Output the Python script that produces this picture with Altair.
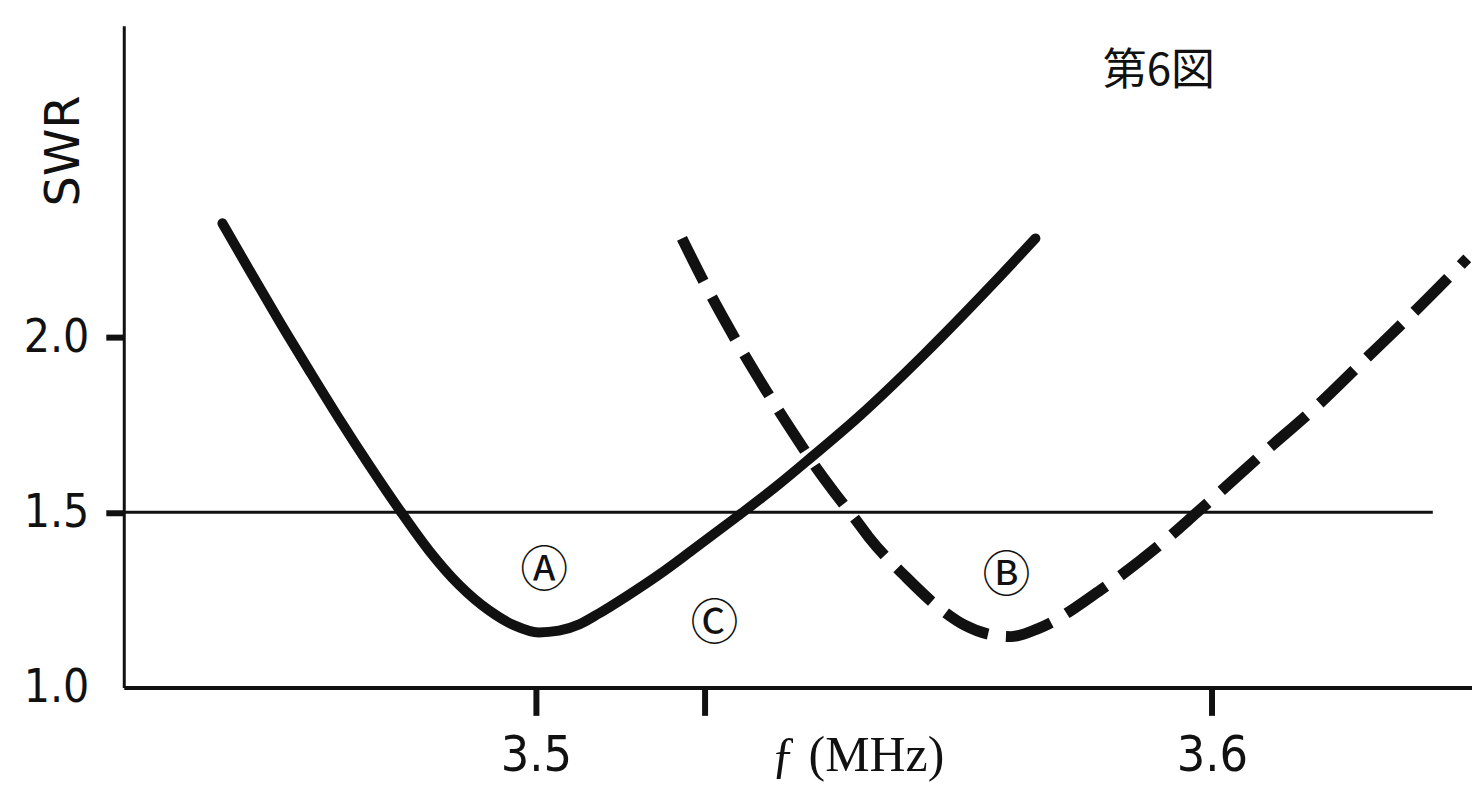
import altair as alt
import pandas as pd

# ---- data ----
# Curve A (solid)
freq_a = [3.4536, 3.4576, 3.4620, 3.4665, 3.4709, 3.4753, 3.4798, 3.4842, 3.4886,
          3.4931, 3.4968, 3.5004, 3.5034, 3.5064, 3.5093, 3.5133, 3.5182, 3.5230,
          3.5295, 3.5355, 3.5408, 3.5477, 3.5576, 3.5674, 3.5739]
swr_a = [2.325, 2.191, 2.046, 1.903, 1.766, 1.635, 1.507, 1.390, 1.293,
         1.219, 1.177, 1.157, 1.162, 1.180, 1.211, 1.259, 1.322, 1.390,
         1.484, 1.573, 1.658, 1.772, 1.954, 2.148, 2.282]

# Curve B (dashed)
freq_b = [3.5216, 3.5251, 3.5295, 3.5340, 3.5393, 3.5418, 3.5443, 3.5473, 3.5492,
          3.5547, 3.5600, 3.5635, 3.5680, 3.5703, 3.5743, 3.5836, 3.5920, 3.5979,
          3.6078, 3.6157, 3.6226, 3.6290, 3.6378]
swr_b = [2.282, 2.148, 1.994, 1.849, 1.690, 1.618, 1.553, 1.479, 1.430,
         1.316, 1.222, 1.177, 1.148, 1.145, 1.168, 1.279, 1.402, 1.501,
         1.672, 1.806, 1.935, 2.054, 2.225]

# SWR = 1.5 reference line
ref_swr = [1.5]
ref_from = [3.439]
ref_to = [3.6327]

# circled labels
label_text = ["Ⓐ", "Ⓑ", "Ⓒ"]
label_freq = [3.5012, 3.5696, 3.5264]
label_swr = [1.330, 1.316, 1.177]

x_ticks = [3.5, 3.525, 3.6]
y_ticks = [1.0, 1.5, 2.0]
x_domain = [3.439, 3.6385]
y_domain = [1.0, 2.889]

# ---- tables ----
df_a = pd.DataFrame({"f": freq_a, "swr": swr_a})
df_b = pd.DataFrame({"f": freq_b, "swr": swr_b})
df_ref = pd.DataFrame({"f": ref_from, "f2": ref_to, "swr": ref_swr})
df_lab = pd.DataFrame({"f": label_freq, "swr": label_swr, "t": label_text})

x_scale = alt.Scale(domain=x_domain, nice=False, zero=False)
y_scale = alt.Scale(domain=y_domain, nice=False, zero=False)

INK = "#111111"
NUM_FONT = "DejaVu Sans Condensed, Liberation Sans Narrow, DejaVu Sans"

x_axis = alt.Axis(
    values=x_ticks,
    labelExpr="abs(datum.value - 3.525) < 0.001 ? '' : format(datum.value, '.1f')",
    grid=False,
    domainColor=INK, domainWidth=4,
    tickColor=INK, tickWidth=6, tickSize=28,
    labelFont=NUM_FONT, labelFontSize=50, labelColor=INK,
    labelBaseline="alphabetic", labelPadding=55, labelAlign="center",
    title="ƒ (MHz)", titleFont="Liberation Serif", titleFontSize=50,
    titleFontWeight="normal", titleColor=INK,
    titleX=735, titleY=83, titleAlign="center", titleBaseline="alphabetic",
)
y_axis = alt.Axis(
    values=y_ticks, format=".1f",
    grid=False,
    domainColor=INK, domainWidth=3,
    tickColor=INK, tickWidth=6, tickSize=18,
    tickOpacity={"condition": {"test": "datum.value == 1", "value": 0}, "value": 1},
    labelFont=NUM_FONT, labelFontSize=46, labelColor=INK,
    labelPadding=17, labelAlign="right", labelBaseline="middle",
    title="SWR", titleFont="DejaVu Sans", titleFontSize=48,
    titleFontWeight="normal", titleColor=INK,
    titleAngle=270, titleX=-59, titleY=125,
    titleAlign="center", titleBaseline="middle",
)

X = alt.X("f:Q", scale=x_scale, axis=x_axis)
Y = alt.Y("swr:Q", scale=y_scale, axis=y_axis)

line_a = alt.Chart(df_a).mark_line(
    color=INK, strokeWidth=10, interpolate="monotone", strokeCap="round"
).encode(x=X, y=Y)

line_b = alt.Chart(df_b).mark_line(
    color=INK, strokeWidth=11, strokeDash=[48, 18], interpolate="monotone"
).encode(x=X, y=Y)

ref = alt.Chart(df_ref).mark_rule(color=INK, strokeWidth=3).encode(
    x=X, x2="f2:Q", y=Y
)

labels = alt.Chart(df_lab).mark_text(
    font="Noto Sans CJK JP", fontSize=48, color=INK, align="center", baseline="middle"
).encode(x=X, y=Y, text="t:N")

chart = alt.layer(line_a, ref, line_b, labels).properties(
    width=1351,
    height=663,
    title=alt.TitleParams(
        "第6図", anchor="start", frame="group", dx=981, dy=68,
        font="Noto Sans CJK JP", fontSize=44, fontWeight="normal",
        color=INK, baseline="top", offset=0,
    ),
    autosize=alt.AutoSizeParams(type="none"),
    padding={"left": 116, "top": 17, "right": 0, "bottom": 95},
    background="white",
).configure_view(stroke=None)

chart.save("out.html", embed_options={"renderer": "svg", "actions": False})
